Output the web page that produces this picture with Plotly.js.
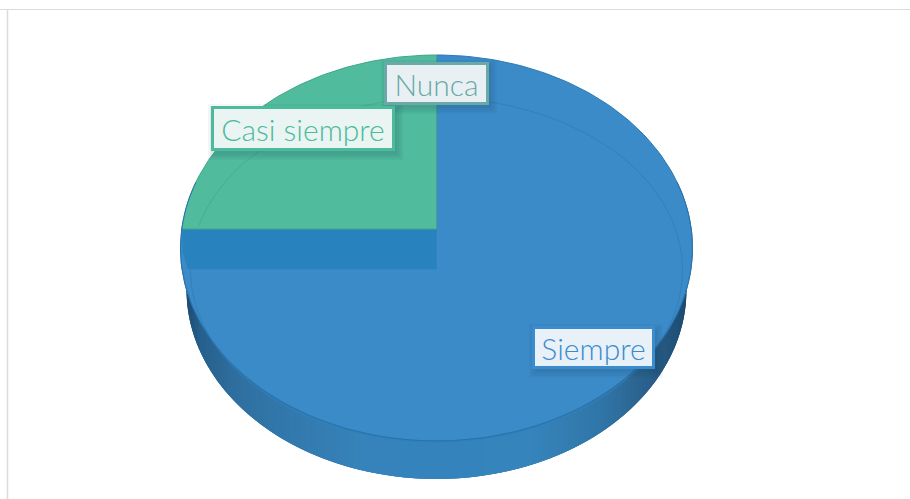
<!DOCTYPE html>
<html><head><meta charset="utf-8">
<script src="https://cdn.plot.ly/plotly-3.0.1.min.js"></script>
<style>html,body{margin:0;padding:0;background:#fff}#c{width:910px;height:499px}</style>
</head><body><div id="c"></div>
<script>
const categories = ['Siempre', 'Casi siempre', 'Nunca'];
const values = [75, 25, 0];
const sliceColors = ['#3b8bc9', '#50bb9d', '#6aa9a7'];
const labelColors = ['#3a8ccf', '#4bbb9b', '#6aa9a7'];
const labelBoxes = [[533,327,653,367,'#e8f0f8'],[212,107,393,149,'#eaf4f2'],[385,63,487,103,'#e9f0f4']];
const wallStops = [[184,'#1b486d'],[200,'#255f8c'],[235,'#2f6f9f'],[290,'#3279ad'],[360,'#3682ba'],[440,'#3583bd'],[530,'#3684bc'],[600,'#3076a8'],[650,'#2a5f8a'],[688,'#1c4a70']];

const cx = 436.5, cy = 248, rx = 256, ry = 193, apexY = 229;
const wall = {cx:436.5, cy:290, rx:250, ry:189};
const inner = {cx:436.5, cy:270, rx:246, ry:172};
const band = {bottom:269, inset:188};
const rad = d => d*Math.PI/180;
const px = (e,t) => e.cx + e.rx*Math.sin(rad(t));
const py = (e,t) => e.cy - e.ry*Math.cos(rad(t));
const top_ = {cx,cy,rx,ry};
const range = (a,b,n) => Array.from({length:n+1},(_,i)=>a+(b-a)*i/n);
const hex = h => [1,3,5].map(i=>parseInt(h.substr(i,2),16));
function wallColor(x){
  for(let i=0;i<wallStops.length-1;i++){
    const [a,ca]=wallStops[i],[b,cb]=wallStops[i+1];
    if(x<=b){const f=Math.max(0,(x-a)/(b-a)),A=hex(ca),B=hex(cb);
      return 'rgb('+A.map((v,k)=>Math.round(v+(B[k]-v)*f)).join(',')+')';}
  }
  return wallStops[wallStops.length-1][1];
}
const poly = (x,y,fill,line,w) => ({type:'scatter',mode:'lines',x,y,fill:'toself',fillcolor:fill,
  line:{color:line||fill,width:w===undefined?1:w},hoverinfo:'skip',showlegend:false});
const traces = [];
// side wall strips, each overlapping the next so no seams show
const W = range(90,270,120);
for(let i=0;i<W.length-1;i++){
  const a=W[i],b=Math.min(270,W[i+1]+3);
  const c=wallColor(px(wall,(a+W[i+1])/2));
  const T=range(a,b,4);
  traces.push(poly([...T.map(t=>px(wall,t)),px(wall,b),px(wall,a)],
    [...T.map(t=>py(wall,t)),cy,cy],c,c,0));
}
// slices from values
const total = values.reduce((s,v)=>s+v,0);
let cum = 0;
const slices = values.map(v=>{const s=cum/total*360;cum+=v;return [s,cum/total*360];});
const leftAt = cx - rx*Math.sqrt(1-Math.pow((cy-apexY)/ry,2));
const A0 = range(slices[0][0],slices[0][1],180);
traces.push(poly([cx,...A0.map(t=>px(top_,t)),leftAt,cx],[apexY,...A0.map(t=>py(top_,t)),apexY,apexY],sliceColors[0],'#2c7ab5',1));
// dark inner wall under the raised slice
traces.push(poly([leftAt+0.5,band.inset-5,band.inset,cx,cx],[apexY,cy+5,band.bottom,band.bottom,apexY],'#2882bd','#2a84c0',0.5));
// inner rim
const R = range(60,270,110);
traces.push({type:'scatter',mode:'lines',x:R.map(t=>px(inner,t)),y:R.map(t=>py(inner,t)),
  line:{color:'#3280bb',width:1},hoverinfo:'skip',showlegend:false});
const RT = range(0,60,30);
traces.push({type:'scatter',mode:'lines',x:RT.map(t=>px(inner,t)),y:RT.map(t=>py(inner,t)),
  line:{color:'#3280bb',width:1},hoverinfo:'skip',showlegend:false});
const A1 = range(slices[1][0],slices[1][1],90);
traces.push(poly([cx,leftAt,...A1.map(t=>px(top_,t)).filter((_,i)=>py(top_,A1[i])<apexY),cx],
  [apexY,apexY,...A1.map(t=>py(top_,t)).filter(y=>y<apexY),apexY],sliceColors[1],'#3fa58c',1));
const RG = range(270,360,60).filter(t=>py(inner,t)<apexY);
traces.push({type:'scatter',mode:'lines',x:RG.map(t=>px(inner,t)),y:RG.map(t=>py(inner,t)),
  line:{color:'#47ae90',width:1},hoverinfo:'skip',showlegend:false});
// outer rim of front edge
const F = range(70,290,110);
traces.push({type:'scatter',mode:'lines',x:F.map(t=>px(top_,t)),y:F.map(t=>py(top_,t)),
  line:{color:'#2a74ad',width:1},hoverinfo:'skip',showlegend:false});

// label shadows
const shapes = [
  {type:'line',xref:'paper',yref:'paper',x0:0,x1:1,y0:1-9.5/499,y1:1-9.5/499,line:{color:'#dcdcdc',width:1}},
  {type:'line',xref:'paper',yref:'paper',x0:7.5/910,x1:7.5/910,y0:0,y1:1-9/499,line:{color:'#dcdcdc',width:1.5}}
];
labelBoxes.forEach(b=>{
  [7,5,3,1].forEach(o=>shapes.push({type:'rect',xref:'x',yref:'y',x0:b[0]-o+3,x1:b[2]+o+3,y0:b[1]-o+4,y1:b[3]+o+4,
    line:{width:0},fillcolor:'rgba(20,60,70,0.05)',layer:'above'}));
});
const annotations = categories.map((c,i)=>{
  const b=labelBoxes[i];
  return {x:(b[0]+b[2])/2,y:(b[1]+b[3])/2,xref:'x',yref:'y',text:c,showarrow:false,
    width:b[2]-b[0]-3,height:b[3]-b[1]-3,bgcolor:b[4],bordercolor:labelColors[i],borderwidth:3,borderpad:0,
    align:'center',valign:'middle',font:{family:'Lato, sans-serif',weight:300,size:30,color:labelColors[i]}};
});
Plotly.newPlot('c',traces,{
  width:910,height:499,margin:{l:0,r:0,t:0,b:0},paper_bgcolor:'#fff',plot_bgcolor:'#fff',
  xaxis:{range:[0,910],visible:false,fixedrange:true},
  yaxis:{range:[499,0],visible:false,fixedrange:true},
  shapes,annotations,showlegend:false
},{displayModeBar:false,staticPlot:true});
</script></body></html>
